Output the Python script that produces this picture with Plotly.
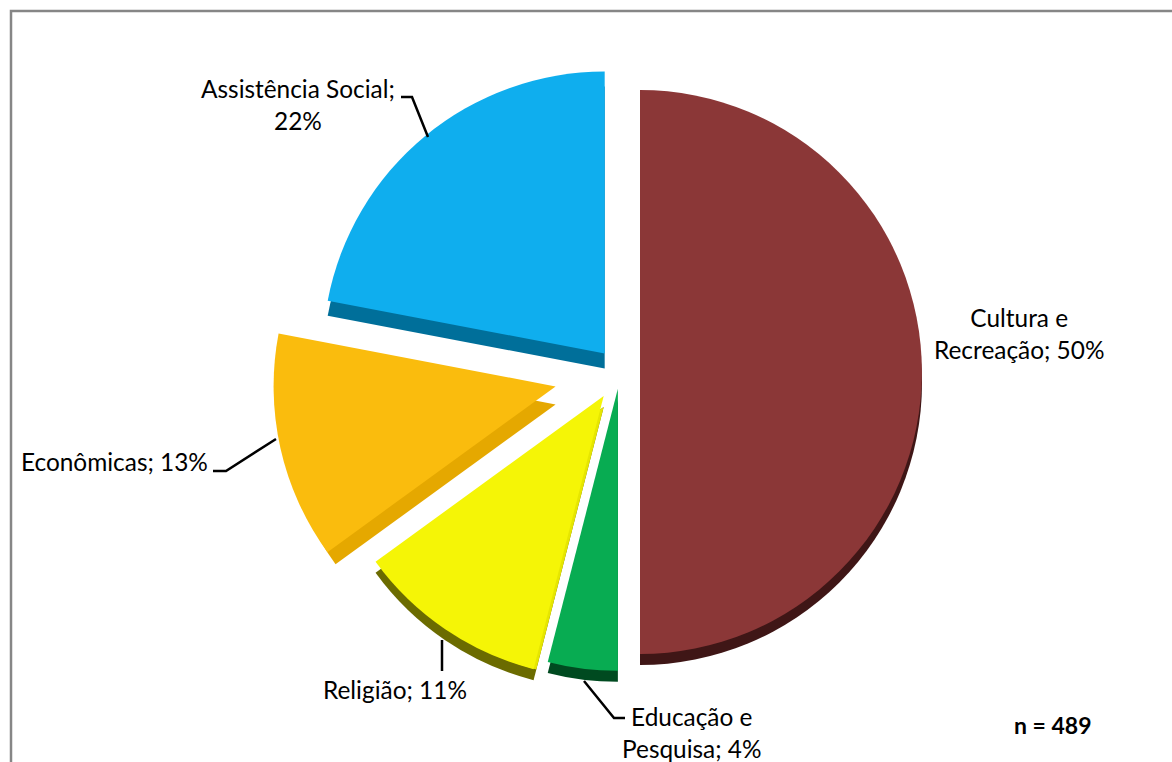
import plotly.graph_objects as go

WIDTH, HEIGHT = 1172, 762

categories = ["Cultura e Recreação", "Educação e Pesquisa", "Religião", "Econômicas", "Assistência Social"]
shares = [50, 4, 11, 13, 22]
top_colors = ["#8B3737", "#08AC52", "#F5F506", "#FABC0D", "#0FAEEE"]
slice_offsets_px = [20, 17, 29, 66, 24]

CENTER_X, CENTER_Y = 620, 372
RADIUS = 282
CLEAR = "rgba(0,0,0,0)"


def pie_layer(colors, radius, cx, cy):
    """One pie with a fixed pixel radius, exploded by the same pixel offsets."""
    pulls = [p / radius for p in slice_offsets_px]
    half = radius * (1 + max(pulls))
    return go.Pie(
        values=shares,
        labels=categories,
        sort=False,
        direction="clockwise",
        rotation=0,
        pull=pulls,
        textinfo="none",
        hoverinfo="skip",
        showlegend=False,
        marker=dict(colors=colors, line=dict(width=0)),
        domain=dict(
            x=[(cx - half) / WIDTH, (cx + half) / WIDTH],
            y=[1 - (cy + half) / HEIGHT, 1 - (cy - half) / HEIGHT],
        ),
    )


# Extruded sides, back to front: (per-slice colours, radius trim, drop in pixels).
# The upper wedges have a deeper side than the lower ones, and a trimmed radius
# keeps a side on the straight edge without showing along the curved edge.
side_layers = [
    (["#3F1616", "#004A20", "#6B6B00", CLEAR, CLEAR], 0, 11),
    ([CLEAR, CLEAR, CLEAR, CLEAR, "#006F9A"], 0, 15),
    ([CLEAR, CLEAR, CLEAR, "#E5A800", CLEAR], 10, 18),
    ([CLEAR, CLEAR, "#E6E600", CLEAR, CLEAR], 11, 11),
]

traces = [pie_layer(c, RADIUS - trim, CENTER_X, CENTER_Y + drop) for c, trim, drop in side_layers]
traces.append(pie_layer(top_colors, RADIUS, CENTER_X, CENTER_Y))
fig = go.Figure(traces)


def px(x):
    return x / WIDTH


def py(y):
    return 1 - y / HEIGHT


def polyline(points, color="#000000", width=2.5):
    d = "M " + " L ".join(f"{px(x)},{py(y)}" for x, y in points)
    return dict(type="path", path=d, xref="paper", yref="paper",
                line=dict(color=color, width=width))


leaders = [
    [(401, 97), (412, 97), (428, 137)],
    [(213, 471), (226, 471), (276, 439)],
    [(442, 640), (442, 671)],
    [(584, 681), (614, 718), (625, 718)],
]
frame = [(11, 762), (11, 11), (1172, 11)]

label_items = [
    ("Assistência Social;<br>22%", 298, 105, False),
    ("Econômicas; 13%", 114, 461, False),
    ("Religião; 11%", 395, 689, False),
    ("Educação e<br>Pesquisa; 4%", 692, 732, False),
    ("Cultura e<br>Recreação; 50%", 1019, 333, False),
    ("n = 489", 1053, 725, True),
]

fig.update_layout(
    width=WIDTH,
    height=HEIGHT,
    margin=dict(l=0, r=0, t=0, b=0),
    paper_bgcolor="#FFFFFF",
    font=dict(family="Lato, sans-serif", color="#000000", size=24.4),
    shapes=[polyline(frame, "#868686", 2.5)] + [polyline(p) for p in leaders],
    annotations=[
        dict(text=f"<b>{t}</b>" if bold else t, x=px(x), y=py(y), xref="paper", yref="paper",
             xanchor="center", yanchor="middle", align="center", showarrow=False,
             font=dict(size=23 if bold else 24.4))
        for t, x, y, bold in label_items
    ],
)

fig.write_html("out.html")
